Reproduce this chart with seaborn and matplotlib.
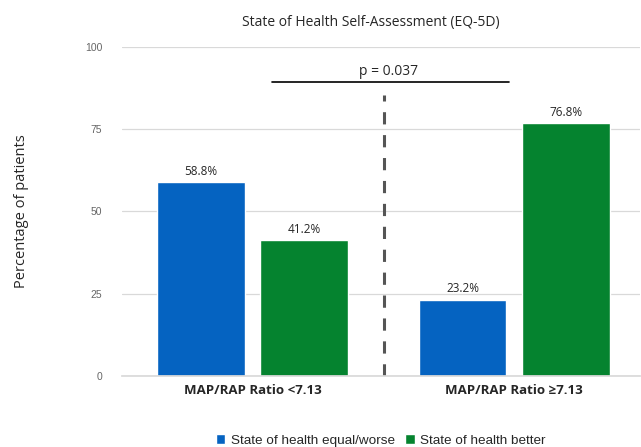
import matplotlib
matplotlib.use("Agg")
import matplotlib.pyplot as plt
import seaborn as sns
import pandas as pd

groups = ["MAP/RAP Ratio <7.13", "MAP/RAP Ratio \u22657.13"]
series = ["State of health equal/worse", "State of health better"]
equal_worse = [58.8, 23.2]
better = [41.2, 76.8]
colors = ["#0563C1", "#05832F"]
y_ticks = [0, 25, 50, 75, 100]
p_text = "p = 0.037"

df = pd.DataFrame({
    "group": groups * 2,
    "series": [series[0]] * 2 + [series[1]] * 2,
    "value": equal_worse + better,
})

sns.set_theme(style="white")
plt.rcParams['font.family'] = ['Open Sans', 'DejaVu Sans']

fig = plt.figure(figsize=(6.41, 4.47), dpi=100)
ax = fig.add_axes([0.19, 0.159, 0.808, 0.736])

sns.barplot(data=df, x="group", y="value", hue="series", palette=colors,
            width=0.79, gap=0.15, saturation=1, ax=ax, legend=True)

ax.set_ylim(0, 100)
ax.set_xlim(-0.5, 1.48)
ax.set_yticks(y_ticks)
ax.set_yticklabels([str(t) for t in y_ticks], fontsize=7.5, color="#666666",
                   family=['Liberation Sans'])
ax.yaxis.grid(True, color="#D9D9D9", linewidth=0.9)
ax.set_axisbelow(True)
ax.tick_params(axis='y', length=0, pad=14)
ax.tick_params(axis='x', length=0, pad=6)
for lbl in ax.get_xticklabels():
    lbl.set_fontweight('bold')
    lbl.set_fontsize(9.5)
for s in ["top", "right", "left"]:
    ax.spines[s].set_visible(False)
ax.spines["bottom"].set_color("#D9D9D9")
ax.set_xlabel("")
ax.set_ylabel("Percentage of patients", fontsize=10.5, labelpad=40)
ax.set_title("State of Health Self-Assessment (EQ-5D)", fontsize=10, pad=15,
             x=0.48)

for cont in ax.containers:
    ax.bar_label(cont, fmt="%.1f%%", fontsize=8.5, padding=3)

# divider and significance bar
ax.plot([0.502, 0.502], [0, 85.5], color="#555555", linestyle=(0, (4, 3.5)),
        linewidth=2.2)
ax.plot([0.076, 0.98], [89.3, 89.3], color="black", linewidth=1.2)
ax.text(0.52, 90.3, p_text, ha="center", va="bottom", fontsize=10)

leg = ax.legend(loc="upper center", bbox_to_anchor=(0.5, -0.14), ncol=2,
                frameon=False, handlelength=0.7, handleheight=0.7,
                handletextpad=0.4, columnspacing=0.8,
                prop={'family': 'Liberation Sans', 'size': 9.7})

fig.savefig("out.png", dpi=100)
